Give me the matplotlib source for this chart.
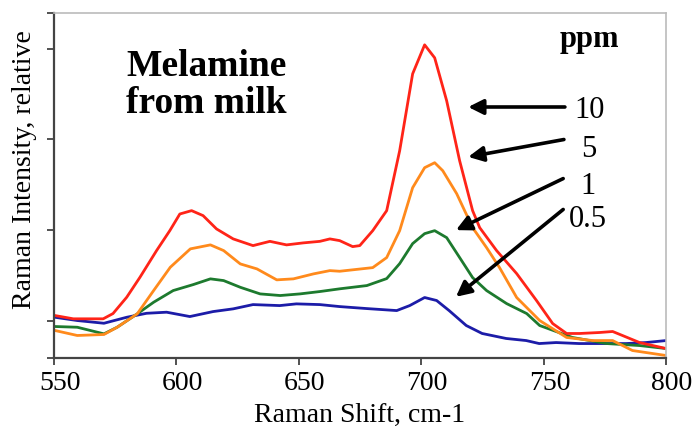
import matplotlib
matplotlib.use("Agg")
import matplotlib.pyplot as plt
import matplotlib.transforms as mtransforms

# Raman spectra of melamine in milk, relative intensity
x_red = [550.4, 557.9, 570.1, 574.1, 579.7, 585.1, 591.9, 597.3, 601.4, 606.2, 610.9, 616.4,
         623.2, 631.3, 638.2, 645.0, 651.8, 658.6, 662.7, 666.7, 672.0, 674.9, 680.2, 685.9,
         691.2, 696.5, 701.4, 705.5, 710.4, 715.7, 721.0, 723.9, 730.8, 739.0, 747.1, 753.7,
         759.4, 764.7, 772.9, 778.2, 782.2, 789.2, 800.0]
y_red = [0.055, 0.019, 0.019, 0.077, 0.257, 0.477, 0.772, 0.992, 1.176, 1.213, 1.158, 1.011,
         0.901, 0.827, 0.874, 0.835, 0.857, 0.874, 0.901, 0.882, 0.816, 0.827, 0.992, 1.213,
         1.874, 2.723, 3.043, 2.900, 2.426, 1.764, 1.213, 1.025, 0.772, 0.518, 0.221, -0.033,
         -0.143, -0.143, -0.132, -0.121, -0.165, -0.243, -0.309]

x_orange = [550.4, 559.5, 570.4, 575.8, 584.0, 590.7, 597.5, 605.7, 613.9, 619.3, 626.1, 632.9,
            641.0, 647.8, 656.0, 662.7, 666.7, 680.2, 685.9, 691.2, 696.5, 701.4, 705.5, 708.8,
            714.5, 721.0, 726.7, 732.0, 739.0, 748.4, 759.4, 770.0, 778.2, 786.3, 800.0]
y_orange = [-0.110, -0.165, -0.154, -0.074, 0.074, 0.331, 0.588, 0.791, 0.835, 0.772, 0.625, 0.570,
            0.449, 0.460, 0.515, 0.551, 0.544, 0.584, 0.695, 0.992, 1.466, 1.687, 1.742, 1.654,
            1.400, 1.025, 0.805, 0.584, 0.254, 0.0, -0.187, -0.221, -0.221, -0.331, -0.386]

x_green = [550.4, 559.5, 570.4, 575.8, 584.0, 590.7, 598.7, 606.9, 613.9, 619.3, 626.1, 634.2,
           642.4, 650.5, 658.6, 666.7, 677.8, 685.9, 691.2, 696.5, 701.4, 705.5, 710.4, 715.7,
           721.0, 726.7, 734.9, 743.1, 748.4, 761.8, 775.7, 789.2, 800.0]
y_green = [-0.066, -0.074, -0.147, -0.074, 0.074, 0.202, 0.331, 0.397, 0.460, 0.441, 0.367, 0.294,
           0.276, 0.294, 0.320, 0.350, 0.386, 0.463, 0.628, 0.849, 0.959, 0.992, 0.915, 0.695,
           0.474, 0.331, 0.187, 0.077, -0.055, -0.187, -0.254, -0.276, -0.309]

x_blue = [550.4, 559.5, 570.4, 579.7, 587.8, 596.0, 605.5, 615.0, 623.2, 631.3, 642.2, 649.0,
          658.6, 666.7, 677.8, 690.0, 695.3, 701.4, 706.3, 711.4, 718.4, 724.9, 734.7, 742.9,
          748.2, 755.1, 764.5, 775.5, 783.7, 791.8, 800.0]
y_blue = [0.036, 0.0, -0.030, 0.036, 0.080, 0.092, 0.044, 0.099, 0.129, 0.176, 0.165, 0.184,
          0.176, 0.154, 0.132, 0.110, 0.165, 0.254, 0.221, 0.110, -0.055, -0.143, -0.198, -0.221,
          -0.254, -0.243, -0.254, -0.254, -0.254, -0.243, -0.221]

ppm_labels = ["10", "5", "1", "0.5"]
# arrow tails / heads in data units
arrow_tail = [(758.7, 2.357), (758.3, 1.998), (758.0, 1.567), (758.0, 1.226)]
arrow_head = [(719.2, 2.357), (719.2, 1.806), (714.2, 0.998), (714.2, 0.262)]
label_pos = [(768.9, 2.32), (768.5, 1.89), (768.1, 1.48), (768.1, 1.11)]

plt.rcParams['font.family'] = ['Liberation Serif', 'DejaVu Serif']

fig = plt.figure(figsize=(6.95, 4.34), dpi=100)
ax = fig.add_axes([54 / 695, 1 - 357.5 / 434, (666 - 54) / 695, (357.5 - 12.5) / 434])

ax.plot(x_blue, y_blue, color="#1c1ca8", linewidth=2.0)
ax.plot(x_green, y_green, color="#1d7a2e", linewidth=2.0)
ax.plot(x_orange, y_orange, color="#ff8a1c", linewidth=2.0)
ax.plot(x_red, y_red, color="#ff2418", linewidth=2.0)

ax.set_xlim(550, 800)
ax.set_ylim(-0.408, 3.40)
ax.set_xticks([550, 600, 650, 700, 750, 800])
ax.set_yticks([-0.408, 0, 1, 2, 3, 3.40])
ax.set_yticklabels([])
ax.tick_params(axis='both', direction='out', length=5, width=1.2, color="#333333",
               labelsize=20, pad=5)
# labels sit a little right of their ticks in the original
shift = mtransforms.ScaledTranslation(6 / 100, 0, fig.dpi_scale_trans)
for lbl in ax.get_xticklabels():
    lbl.set_transform(lbl.get_transform() + shift)
for side in ["left", "bottom"]:
    ax.spines[side].set_color("#444444")
    ax.spines[side].set_linewidth(1.6)
for side in ["top", "right"]:
    ax.spines[side].set_color("#bbbbbb")
    ax.spines[side].set_linewidth(1.2)

ax.set_xlabel("Raman Shift, cm-1", fontsize=20, labelpad=5)
ax.set_ylabel("Raman Intensity, relative", fontsize=20)
ax.yaxis.set_label_coords(-0.028, 0.545)

ax.text(579.5, 2.60, "Melamine\nfrom milk", fontsize=27, fontweight="bold",
        ha="left", va="center", linespacing=1.1)
ax.text(768.9, 3.10, "ppm", fontsize=22, fontweight="bold", ha="center", va="center")

for lab, t, h, p in zip(ppm_labels, arrow_tail, arrow_head, label_pos):
    ax.annotate("", xy=h, xytext=t,
                arrowprops=dict(arrowstyle="-|>,head_length=0.9,head_width=0.45",
                                color="black", lw=2.6, shrinkA=0, shrinkB=0))
    ax.text(p[0], p[1], lab, fontsize=22, ha="center", va="center")

fig.savefig("out.png", dpi=100)
